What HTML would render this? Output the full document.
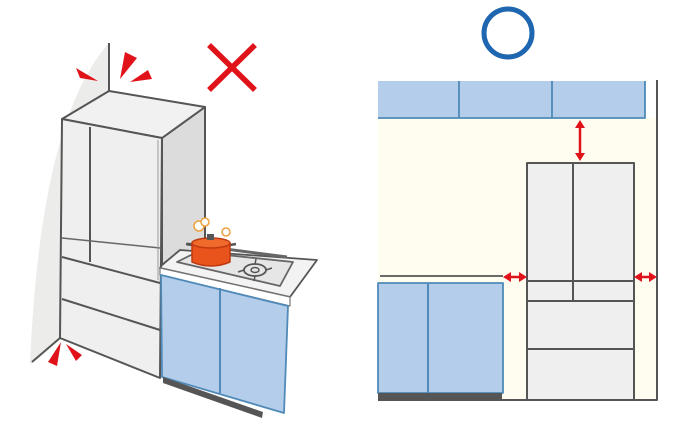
<!DOCTYPE html>
<html><head><meta charset="utf-8"><style>html,body{margin:0;padding:0;background:#fff;width:686px;height:432px;overflow:hidden}</style></head>
<body>
<svg width="686" height="432" viewBox="0 0 686 432" xmlns="http://www.w3.org/2000/svg" stroke-linejoin="round">
<!-- LEFT SCENE -->
<path d="M109,43 Q40,120 30,365 L60,338 L109,91 Z" fill="#ececea"/>
<path d="M109,43 L109,91" stroke="#555" stroke-width="2"/>
<path d="M32,362 L60,338" stroke="#555" stroke-width="2"/>
<!-- fridge side -->
<polygon points="162,138 205,107 205,262 162,272" fill="#dcdcdc" stroke="#555" stroke-width="2"/>
<!-- fridge top -->
<polygon points="62,119 109,91 205,107 162,138" fill="#f1f1f1" stroke="#555" stroke-width="2"/>
<path d="M63,124 L160,143" stroke="#777" stroke-width="1.2"/>
<!-- fridge front -->
<polygon points="62,119 162,138 160,378 60,338" fill="#efefef" stroke="#555" stroke-width="2"/>
<path d="M90,127 L90,262" stroke="#555" stroke-width="2"/>
<path d="M62,238 L160,248" stroke="#666" stroke-width="1.5"/>
<path d="M62,257 L160,283" stroke="#555" stroke-width="2"/>
<path d="M62,299 L160,330" stroke="#555" stroke-width="2"/>
<path d="M158,140 L158,280" stroke="#999" stroke-width="1"/>
<!-- counter -->
<polygon points="162,265 180,250 317,260 290,297 160,268" fill="#f3f3f3" stroke="#555" stroke-width="1.8"/>
<polygon points="160,268 290,297 290,306 160,275" fill="#ffffff" stroke="#777" stroke-width="1.2"/>
<polygon points="177,262 197,252 293,262 280,286" fill="#e6e6e6" stroke="#666" stroke-width="1.8"/>
<!-- burner -->
<ellipse cx="255" cy="270" rx="11" ry="6" fill="none" stroke="#555" stroke-width="1.8"/>
<ellipse cx="255" cy="270" rx="4" ry="2.5" fill="none" stroke="#555" stroke-width="1.5"/>
<path d="M244,270 L238,272 M266,270 L272,268 M255,264 L256,259 M255,276 L254,281" stroke="#555" stroke-width="1.5"/>
<!-- grate bar -->
<path d="M187,244 L287,257" stroke="#666" stroke-width="3"/>
<!-- pot -->
<path d="M186,244 L193,245 M230,245 L236,244" stroke="#555" stroke-width="2.5"/>
<path d="M192,243 L192,262 Q211,270 230,262 L230,243 Z" fill="#e8541c" stroke="#c03a10" stroke-width="1.5"/>
<ellipse cx="211" cy="243" rx="19" ry="5" fill="#f06a2c" stroke="#c03a10" stroke-width="1.5"/>
<rect x="207" y="234" width="7" height="6" fill="#555"/>
<circle cx="199" cy="226" r="5" fill="#fff" stroke="#f0a040" stroke-width="1.5"/>
<circle cx="205" cy="222" r="4" fill="#fff" stroke="#f0a040" stroke-width="1.5"/>
<circle cx="226" cy="232" r="4" fill="#fff" stroke="#f0a040" stroke-width="1.5"/>
<!-- cabinet -->
<polygon points="161,275 288,306 284,413 162,377" fill="#b4cdea" stroke="#4f8ab8" stroke-width="1.8"/>
<path d="M220,288 L220,393" stroke="#4f8ab8" stroke-width="2"/>
<polygon points="163,377 263,412 262,418 163,383" fill="#555"/>
<!-- red wedges -->
<g fill="#e0131a">
<polygon points="76,68 80,78 98,81"/>
<polygon points="125,52 137,58 120,79"/>
<polygon points="148,70 152,79 130,82"/>
<polygon points="48,362 57,366 61,342"/>
<polygon points="66,344 76,361 82,355"/>
</g>
<!-- X -->
<path d="M209,45 L255,90 M255,45 L209,90" stroke="#e0131a" stroke-width="5.5"/>

<!-- RIGHT SCENE -->
<circle cx="508" cy="33" r="24" fill="none" stroke="#1f66b0" stroke-width="5"/>
<rect x="378" y="118" width="279" height="282" fill="#fffdf0"/>
<rect x="378" y="81" width="267" height="37" fill="#b4cdea"/>
<path d="M378,118 L645,118 L645,81 M459,81 L459,118 M552,81 L552,118" stroke="#4f8ab8" stroke-width="1.8" fill="none"/>
<path d="M657,80 L657,400 L378,400" stroke="#555" stroke-width="2" fill="none"/>
<!-- fridge -->
<rect x="527" y="163" width="107" height="237" fill="#efefef" stroke="#555" stroke-width="2"/>
<path d="M573,163 L573,301 M527,281 L634,281 M527,301 L634,301 M527,349 L634,349" stroke="#555" stroke-width="2"/>
<!-- counter & cabinet -->
<path d="M380,276 L503,276" stroke="#555" stroke-width="1.8"/>
<rect x="378" y="283" width="125" height="110" fill="#b4cdea" stroke="#4f8ab8" stroke-width="1.8"/>
<path d="M428,283 L428,393" stroke="#4f8ab8" stroke-width="2"/>
<rect x="378" y="393" width="124" height="7" fill="#555"/>
<!-- arrows -->
<g stroke="#e0131a" stroke-width="2.5" fill="#e0131a">
<path d="M580,126 L580,155"/>
<path d="M509,277 L521,277"/>
<path d="M640,277 L651,277"/>
</g>
<g fill="#e0131a">
<polygon points="580,120 575,128 585,128"/>
<polygon points="580,161 575,153 585,153"/>
<polygon points="503,277 511,272 511,282"/>
<polygon points="527,277 519,272 519,282"/>
<polygon points="634,277 642,272 642,282"/>
<polygon points="657,277 649,272 649,282"/>
</g>
</svg>
</body></html>
